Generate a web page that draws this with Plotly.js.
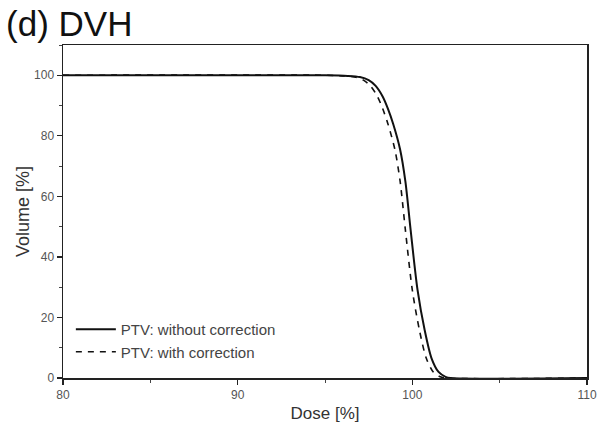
<!DOCTYPE html>
<html>
<head>
<meta charset="utf-8">
<script src="https://cdn.plot.ly/plotly-3.0.1.min.js"></script>
<style>html,body{margin:0;padding:0;background:#fff;}#chart{width:604px;height:434px;}</style>
</head>
<body>
<div id="chart"></div>
<script>
// Dose [%] and Volume [%]
const doseWithout = [80, 95, 96.3, 97.0, 97.5, 97.9, 98.3, 98.6, 98.9, 99.3, 99.6, 99.9, 100.3, 100.7, 101.1, 101.5, 101.9, 102.2, 110];
const volWithout  = [100, 100, 99.8, 99.4, 98.4, 96.5, 93.0, 89.0, 84.0, 75.5, 65.0, 49.0, 29.0, 16.0, 6.5, 2.0, 0.4, 0, 0];
const doseWith    = [80, 95, 96.0, 96.7, 97.2, 97.6, 98.0, 98.3, 98.6, 99.0, 99.3, 99.6, 100.0, 100.4, 100.8, 101.2, 101.6, 101.9, 110];
const volWith     = [100, 100, 99.8, 99.4, 98.4, 96.5, 93.0, 89.0, 84.0, 75.5, 65.0, 49.0, 29.0, 16.0, 6.5, 2.0, 0.4, 0, 0];
const seriesNames = ['PTV: without correction', 'PTV: with correction'];
const xTicks = [80, 90, 100, 110];
const yTicks = [0, 20, 40, 60, 80, 100];

const font = 'Liberation Sans, Arial, sans-serif';
const traces = [
  {x: doseWithout, y: volWithout, name: seriesNames[0], mode: 'lines',
   line: {color: '#111', width: 2, shape: 'spline', smoothing: 0.8}},
  {x: doseWith, y: volWith, name: seriesNames[1], mode: 'lines',
   line: {color: '#111', width: 1.6, dash: '6px,6px', shape: 'spline', smoothing: 0.8}}
];
const axisCommon = {
  showgrid: false, zeroline: false, showline: true, mirror: true,
  linecolor: '#222', linewidth: 1.5, ticks: 'outside', ticklen: 5, tickwidth: 1.2,
  tickcolor: '#222', tickfont: {family: font, size: 12, color: '#555'},
  minor: {ticks: 'outside', ticklen: 3, tickwidth: 1, tickcolor: '#444'}
};
const layout = {
  width: 604, height: 434,
  margin: {l: 63, r: 17, t: 45, b: 56},
  paper_bgcolor: '#fff', plot_bgcolor: '#fff',
  title: {text: '(d) DVH', font: {family: font, size: 35, color: '#111'},
          x: 0.01, xanchor: 'left', y: 0.945, yanchor: 'middle', xref: 'container', yref: 'container'},
  xaxis: Object.assign({}, axisCommon, {
    range: [80, 110], tickvals: xTicks, ticktext: xTicks.map(String),
    minor: Object.assign({}, axisCommon.minor, {dtick: 5}),
    title: {text: 'Dose [%]', font: {family: font, size: 17, color: '#333'}, standoff: 6}
  }),
  yaxis: Object.assign({}, axisCommon, {
    range: [0, 110], tickvals: yTicks, ticktext: yTicks.map(String),
    minor: Object.assign({}, axisCommon.minor, {dtick: 10}),
    title: {text: 'Volume [%]', font: {family: font, size: 18, color: '#333'}, standoff: 0}
  }),
  showlegend: true,
  legend: {x: 0.015, y: 0.03, xanchor: 'left', yanchor: 'bottom',
           bgcolor: 'rgba(0,0,0,0)', font: {family: font, size: 15, color: '#444'},
           tracegroupgap: 0, itemwidth: 40}
};
Plotly.newPlot('chart', traces, layout, {displayModeBar: false, staticPlot: true});
</script>
</body>
</html>
